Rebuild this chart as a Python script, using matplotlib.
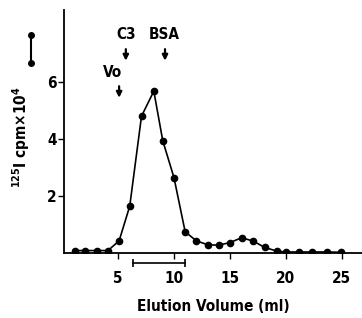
import matplotlib
matplotlib.use('Agg')
import matplotlib.pyplot as plt
from matplotlib.lines import Line2D

# Elution profile values
volume_ml = [1.15, 2.05, 3.1, 4.1, 5.1, 6.05, 7.1, 8.2, 9.0, 10.0, 11.0, 12.0,
             13.05, 14.0, 15.0, 16.05, 17.1, 18.1, 19.2, 20.0, 21.2, 22.3, 23.7, 24.9]
cpm_e4 = [0.09, 0.09, 0.09, 0.09, 0.43, 1.65, 4.8, 5.68, 3.94, 2.65, 0.75, 0.43,
          0.29, 0.28, 0.37, 0.54, 0.42, 0.2, 0.07, 0.04, 0.04, 0.04, 0.04, 0.03]

# marker positions (ml) for Vo, C3, BSA arrows
marker_names = ['Vo', 'C3', 'BSA']
marker_pos = [5.1, 5.7, 9.2]
pool_range = [6.3, 11.0]

x_ticks = [5, 10, 15, 20, 25]
y_ticks = [2, 4, 6]

plt.rcParams['font.family'] = 'DejaVu Sans'
plt.rcParams['font.stretch'] = 'condensed'
plt.rcParams['font.weight'] = 'bold'
plt.rcParams['mathtext.fontset'] = 'custom'
for k in ['rm', 'it', 'bf']:
    plt.rcParams['mathtext.' + k] = 'DejaVu Sans:weight=bold:stretch=condensed'

fig = plt.figure(figsize=(3.62, 3.18), dpi=100)
ax = fig.add_axes([0.176, 0.204, 0.824, 0.765])

ax.plot(volume_ml, cpm_e4, color='black', lw=1.2, marker='o', ms=4.5)

ax.set_xlim(0.15, 26.8)
ax.set_ylim(0, 8.53)
ax.set_xticks(x_ticks)
ax.set_yticks(y_ticks)
for s in ['top', 'right']:
    ax.spines[s].set_visible(False)
for s in ['left', 'bottom']:
    ax.spines[s].set_linewidth(1.3)
ax.tick_params(direction='out', length=4, width=1, labelsize=11)
ax.tick_params(axis='x', pad=9)
ax.tick_params(axis='y', pad=1)

ax.set_xlabel('Elution Volume (ml)', fontsize=11, fontweight='bold', labelpad=9)
ax.set_ylabel(r'$^{125}$I cpm$\times$10$^{4}$', fontsize=11, fontweight='bold')
ax.yaxis.set_label_coords(-0.105, 0.475)

# arrows
arrow_y = {'Vo': (5.95, 5.35), 'C3': (7.25, 6.65), 'BSA': (7.25, 6.65)}
text_y = {'Vo': 6.35, 'C3': 7.65, 'BSA': 7.65}
text_dx = {'Vo': -0.6, 'C3': 0.0, 'BSA': -0.1}
for name, xpos in zip(marker_names, marker_pos):
    y0, y1 = arrow_y[name]
    ax.annotate('', xy=(xpos, y1), xytext=(xpos, y0),
                arrowprops=dict(arrowstyle='-|>', color='black', lw=1.6,
                                mutation_scale=8))
    ax.text(xpos + text_dx[name], text_y[name], name, ha='center', va='center',
            fontsize=11, fontweight='bold')

# pooled fraction bar below axis
ax.plot(pool_range, [-0.35, -0.35], color='black', lw=1.2, clip_on=False,
        marker='|', ms=6, mew=1.2)

# line symbol next to the y label
fig.add_artist(Line2D([31 / 362, 31 / 362], [1 - 35 / 318, 1 - 63 / 318],
                      color='black', lw=1.5, marker='o', ms=4))

fig.savefig('out.png', dpi=100)
